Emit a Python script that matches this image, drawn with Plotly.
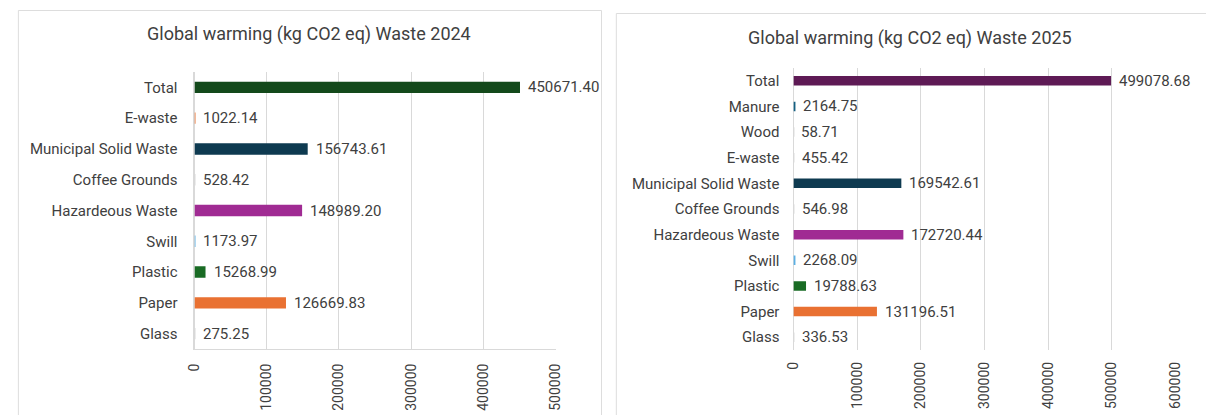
import plotly.graph_objects as go

W, H = 1206, 415

# ---- Data (bottom to top order as drawn) ----
cats_2024 = ["Glass", "Paper", "Plastic", "Swill", "Hazardeous Waste", "Coffee Grounds",
             "Municipal Solid Waste", "E-waste", "Total"]
vals_2024 = [275.25, 126669.83, 15268.99, 1173.97, 148989.20, 528.42, 156743.61, 1022.14, 450671.40]
cols_2024 = ["#D9D9D9", "#E97132", "#196B24", "#5BB0E4", "#A02B93", "#D9D9D9", "#0E3A50", "#E97132", "#13491B"]

cats_2025 = ["Glass", "Paper", "Plastic", "Swill", "Hazardeous Waste", "Coffee Grounds",
             "Municipal Solid Waste", "E-waste", "Wood", "Manure", "Total"]
vals_2025 = [336.53, 131196.51, 19788.63, 2268.09, 172720.44, 546.98, 169542.61, 455.42, 58.71, 2164.75, 499078.68]
cols_2025 = ["#D9D9D9", "#E97132", "#196B24", "#5BB0E4", "#A02B93", "#D9D9D9", "#0E3A50", "#D9D9D9", "#D9D9D9", "#156082", "#5E1A55"]

title_2024 = "Global warming (kg CO2 eq) Waste 2024"
title_2025 = "Global warming (kg CO2 eq) Waste 2025"
ticks_2024 = [0, 100000, 200000, 300000, 400000, 500000]
ticks_2025 = [0, 100000, 200000, 300000, 400000, 500000, 600000]

FONT = "Roboto"
TXT = "#404040"
GRID = "#D9D9D9"

def px_x(p):
    return p / W

def px_y(p):
    return 1 - p / H

fig = go.Figure()

fig.add_trace(go.Bar(x=vals_2024, y=cats_2024, orientation="h", marker=dict(color=cols_2024, line=dict(width=0)),
                     xaxis="x", yaxis="y", showlegend=False, hoverinfo="x+y"))
fig.add_trace(go.Bar(x=vals_2025, y=cats_2025, orientation="h", marker=dict(color=cols_2025, line=dict(width=0)),
                     xaxis="x2", yaxis="y2", showlegend=False, hoverinfo="x+y"))

annotations = []
for c, v in zip(cats_2024, vals_2024):
    annotations.append(dict(x=v, y=c, xref="x", yref="y", text=f"{v:.2f}", showarrow=False,
                            xanchor="left", yanchor="middle", xshift=6,
                            font=dict(family=FONT, size=15, color=TXT)))
for c, v in zip(cats_2025, vals_2025):
    annotations.append(dict(x=v, y=c, xref="x2", yref="y2", text=f"{v:.2f}", showarrow=False,
                            xanchor="left", yanchor="middle", xshift=6,
                            font=dict(family=FONT, size=15, color=TXT)))

annotations.append(dict(x=px_x(305), y=px_y(34), xref="paper", yref="paper", text=title_2024,
                        showarrow=False, xanchor="center", yanchor="middle",
                        font=dict(family=FONT, size=18, color=TXT)))
annotations.append(dict(x=px_x(914), y=px_y(38), xref="paper", yref="paper", text=title_2025,
                        showarrow=False, xanchor="center", yanchor="middle",
                        font=dict(family=FONT, size=18, color=TXT)))

shapes = [
    dict(type="rect", xref="paper", yref="paper", x0=px_x(10.5), x1=px_x(601.5), y0=-0.2, y1=px_y(10.5),
         line=dict(color="#DDDDDD", width=1), fillcolor="rgba(0,0,0,0)", layer="below"),
    dict(type="rect", xref="paper", yref="paper", x0=px_x(616.5), x1=1.2, y0=-0.2, y1=px_y(13.5),
         line=dict(color="#DDDDDD", width=1), fillcolor="rgba(0,0,0,0)", layer="below"),
]

xaxis_common = dict(showgrid=True, gridcolor=GRID, gridwidth=1, zeroline=True, zerolinecolor=GRID,
                    zerolinewidth=1, tickangle=-90, tickfont=dict(family=FONT, size=14, color="#404040"),
                    ticks="", fixedrange=True, ticklabelstandoff=8)
yaxis_common = dict(showgrid=False, tickfont=dict(family=FONT, size=15, color=TXT), ticks="",
                    ticklabelstandoff=13, fixedrange=True, type="category")

fig.update_layout(
    width=W, height=H,
    margin=dict(l=0, r=0, t=0, b=0),
    paper_bgcolor="white", plot_bgcolor="white",
    bargap=0.63,
    xaxis=dict(domain=[px_x(189), px_x(555)], range=[0, 500000], tickvals=ticks_2024,
               ticktext=[str(t) for t in ticks_2024], anchor="y",
               showline=True, linecolor=GRID, linewidth=1, **xaxis_common),
    yaxis=dict(domain=[px_y(349), px_y(72)], anchor="x", categoryorder="array", categoryarray=cats_2024,
               showline=True, linecolor=GRID, linewidth=1, **yaxis_common),
    xaxis2=dict(domain=[px_x(796), px_x(1183)], range=[0, 600000], tickvals=ticks_2025,
                ticktext=[str(t) for t in ticks_2025], anchor="y2", showline=False, **xaxis_common),
    yaxis2=dict(domain=[px_y(350), px_y(68)], anchor="x2", categoryorder="array", categoryarray=cats_2025,
                showline=False, **yaxis_common),
    annotations=annotations,
    shapes=shapes,
    font=dict(family=FONT, color=TXT),
)

fig.write_html(
    "out.html",
    config={"displayModeBar": False, "staticPlot": False},
    post_script="document.body.style.margin='0';document.body.style.overflow='hidden';"
                "document.documentElement.style.overflow='hidden';",
)
